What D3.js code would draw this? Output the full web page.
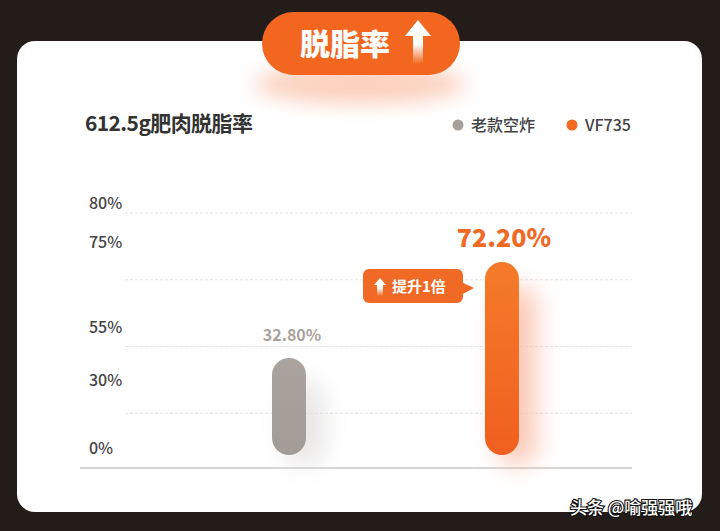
<!DOCTYPE html>
<html><head><meta charset="utf-8">
<script src="https://cdn.jsdelivr.net/npm/d3@7"></script>
<style>html,body{margin:0;padding:0;background:#231c19;overflow:hidden}</style>
</head><body><svg id="c" width="720" height="531"></svg>
<script>
const categories = ["老款空炸", "VF735"];
const values = [32.8, 72.2];
const valueLabels = ["32.80%", "72.20%"];
const tickValues = [0, 30, 55, 75, 80];
const tickLabels = ["0%", "30%", "55%", "75%", "80%"];
const colors = ["#a69f9a", "#f26a22"];
const title = "612.5g肥肉脱脂率";
const headline = "脱脂率";
const annotation = "提升1倍";
const watermark = "头条 @喻强强哦";

const svg = d3.select("#c");
const F = "'Noto Sans CJK SC','Noto Sans',sans-serif";
const defs = svg.append("defs");

const og = defs.append("linearGradient").attr("id","og").attr("x1",0).attr("y1",0).attr("x2",0).attr("y2",1);
og.append("stop").attr("offset","0%").attr("stop-color","#f47b2a");
og.append("stop").attr("offset","100%").attr("stop-color","#f05f1f");
const gg = defs.append("linearGradient").attr("id","gg").attr("x1",0).attr("y1",0).attr("x2",0).attr("y2",1);
gg.append("stop").attr("offset","0%").attr("stop-color","#aaa39e");
gg.append("stop").attr("offset","100%").attr("stop-color","#a29b96");
const ag = defs.append("linearGradient").attr("id","ag").attr("x1",0).attr("y1",0).attr("x2",0).attr("y2",1);
ag.append("stop").attr("offset","0%").attr("stop-color","#fff").attr("stop-opacity",1);
ag.append("stop").attr("offset","55%").attr("stop-color","#fff").attr("stop-opacity",1);
ag.append("stop").attr("offset","100%").attr("stop-color","#fff").attr("stop-opacity",0);
const blur = defs.append("filter").attr("id","blur").attr("x","-50%").attr("y","-50%").attr("width","200%").attr("height","200%");
blur.append("feGaussianBlur").attr("stdDeviation",10);
const blur2 = defs.append("filter").attr("id","blur2").attr("x","-80%").attr("y","-80%").attr("width","260%").attr("height","260%");
blur2.append("feGaussianBlur").attr("stdDeviation",12);

// card
svg.append("rect").attr("x",17).attr("y",41).attr("width",685).attr("height",471).attr("rx",18).attr("fill","#ffffff");

// headline badge
svg.append("ellipse").attr("cx",360).attr("cy",84).attr("rx",105).attr("ry",20).attr("fill","#f9b79a").attr("opacity",0.65).attr("filter","url(#blur)");
svg.append("rect").attr("x",262).attr("y",12).attr("width",198).attr("height",63).attr("rx",31.5).attr("fill","#f2661f");
svg.append("text").attr("x",345).attr("y",55).attr("text-anchor","middle").attr("font-family",F).attr("font-weight",900)
  .attr("font-size",30).attr("fill","#fff").text(headline);
const arr = svg.append("g").attr("transform","translate(418,20)");
arr.append("path").attr("d","M0,0 L13,16 L5,16 L5,44 L-5,44 L-5,16 L-13,16 Z").attr("fill","url(#ag)");

// title
svg.append("text").attr("x",85).attr("y",131).attr("font-family",F).attr("font-weight",600)
  .attr("font-size",21).attr("letter-spacing",-0.6).attr("fill","#333").text(title);

// legend
const legX = [458, 572];
categories.forEach((c,i)=>{
  svg.append("circle").attr("cx",legX[i]).attr("cy",125).attr("r",5.5).attr("fill",colors[i]);
  svg.append("text").attr("x",legX[i]+13).attr("y",131).attr("font-family",F).attr("font-weight",500)
    .attr("font-size",16).attr("fill","#444").text(c);
});

// grid
const gridScale = d3.scaleLinear().domain([0,4]).range([480,213]);
[1,2,3,4].forEach(i=>{
  svg.append("line").attr("x1",125).attr("x2",632).attr("y1",gridScale(i)).attr("y2",gridScale(i))
    .attr("stroke","#e4e4e4").attr("stroke-width",1).attr("stroke-dasharray","3,2");
});
svg.append("line").attr("x1",80).attr("x2",632).attr("y1",468).attr("y2",468).attr("stroke","#c9c9c9").attr("stroke-width",1.5);

// y tick labels
const yTick = d3.scaleLinear().domain(tickValues).range([448,380,327,242,203]);
const yAxis = d3.axisLeft(yTick).tickValues(tickValues).tickFormat((d,i)=>tickLabels[i]).tickSize(0).tickPadding(0);
const ga = svg.append("g").attr("transform","translate(89,0)").call(yAxis);
ga.select(".domain").remove();
ga.selectAll("text").attr("text-anchor","start").attr("font-family",F).attr("font-size",16)
  .attr("fill","#444").attr("font-weight",500);

// bars
const x = d3.scalePoint().domain(categories).range([289, 502]);
const y = d3.scaleLinear().domain([0,80]).range([438,243]);
const bw = 34, ext = 17;
const fills = ["url(#gg)","url(#og)"];
const shadowCols = ["#d9d6d4","#f9b8a0"];
categories.forEach((c,i)=>{
  const top = y(values[i]), bot = y(0)+ext;
  svg.append("rect").attr("x",x(c)-bw/2+12).attr("y",top+24).attr("width",bw+6).attr("height",bot-top-14)
    .attr("rx",18).attr("fill",shadowCols[i]).attr("opacity",i?0.75:0.6).attr("filter","url(#blur2)");
});
svg.selectAll("rect.bar").data(values).enter().append("rect").attr("class","bar")
  .attr("x",(d,i)=>x(categories[i])-bw/2).attr("y",d=>y(d))
  .attr("width",bw).attr("height",d=>y(0)+ext-y(d)).attr("rx",bw/2)
  .attr("fill",(d,i)=>fills[i]);

// value labels
svg.append("text").attr("x",x(categories[0])+3).attr("y",y(values[0])-17).attr("text-anchor","middle")
  .attr("font-family",F).attr("font-weight",700).attr("font-size",16).attr("fill","#a9a29d").text(valueLabels[0]);
svg.append("text").attr("x",x(categories[1])+2).attr("y",y(values[1])-15).attr("text-anchor","middle")
  .attr("font-family",F).attr("font-weight",800).attr("font-size",25).attr("fill","#f06a26").text(valueLabels[1]);

// annotation bubble
const ab = svg.append("g");
ab.append("rect").attr("x",363).attr("y",269).attr("width",100).attr("height",34).attr("rx",6).attr("fill","#f06a26");
ab.append("path").attr("d","M461,282 L474,288 L461,295 Z").attr("fill","#f06a26");
ab.append("path").attr("d","M380,278 L386,285 L383,285 L383,296 L377,296 L377,285 L374,285 Z").attr("fill","url(#ag)");
ab.append("text").attr("x",392).attr("y",292).attr("font-family",F).attr("font-weight",700)
  .attr("font-size",15).attr("fill","#fff").text(annotation);

// watermark
svg.append("text").attr("x",570).attr("y",514).attr("font-family",F).attr("font-size",17).attr("font-weight",500)
  .attr("fill","#fff").attr("stroke","#111").attr("stroke-width",2.2).attr("paint-order","stroke").text(watermark);
</script></body></html>
